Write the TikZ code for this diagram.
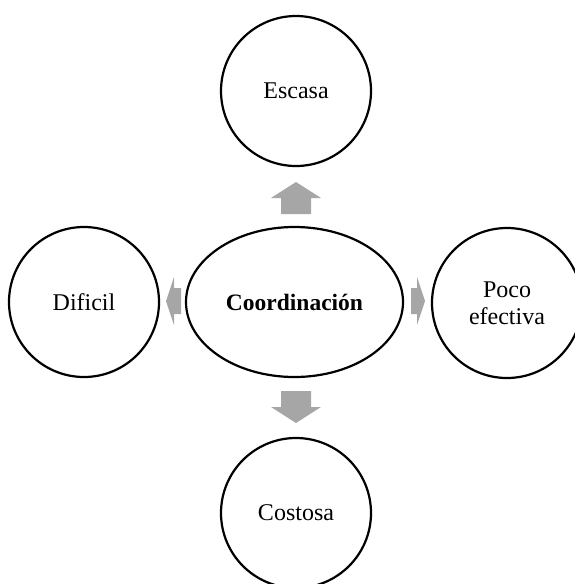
\documentclass[tikz,border=0pt]{standalone}
\usepackage{fontspec}
\setmainfont{Liberation Serif}
\usetikzlibrary{shapes.geometric}
\definecolor{arrowgray}{RGB}{166,166,166}
\tikzset{
  bubble/.style={circle, draw=black, line width=2.2pt, minimum size=150pt,
    inner sep=0pt, align=center, font=\fontsize{24}{27}\selectfont},
  hub/.style={ellipse, draw=black, line width=2.2pt, minimum width=217pt,
    minimum height=150pt, inner sep=0pt, font=\fontsize{23.5}{27}\selectfont\bfseries},
  blockarrow/.style={fill=arrowgray, draw=none}
}
\begin{document}
\begin{tikzpicture}[x=1pt, y=-1pt]
  \useasboundingbox (0,0) rectangle (575,584);
  \clip (0,0) rectangle (575,584);

  % central concept
  \node[hub] (coord) at (294.5,302) {Coordinación};

  % surrounding attributes
  \node[bubble] (escasa) at (296,91) {Escasa};
  \node[bubble] (dificil) at (84,302) {Dificil};
  \node[bubble] (poco) at (507,303) {Poco\\efectiva};
  \node[bubble] (costosa) at (296,513) {Costosa};

  % block arrows pointing outward from the centre
  \fill[blockarrow] (296,182) -- (321,198) -- (311,198) -- (311,214)
        -- (281,214) -- (281,198) -- (271,198) -- cycle;
  \fill[blockarrow] (281,391) -- (311,391) -- (311,407) -- (321,407)
        -- (296,423) -- (271,407) -- (281,407) -- cycle;
  \fill[blockarrow] (166,301) -- (174,277) -- (174,288) -- (181,288)
        -- (181,314) -- (174,314) -- (174,325) -- cycle;
  \fill[blockarrow] (425,301) -- (417,277) -- (417,288) -- (411,288)
        -- (411,314) -- (417,314) -- (417,325) -- cycle;
\end{tikzpicture}
\end{document}
